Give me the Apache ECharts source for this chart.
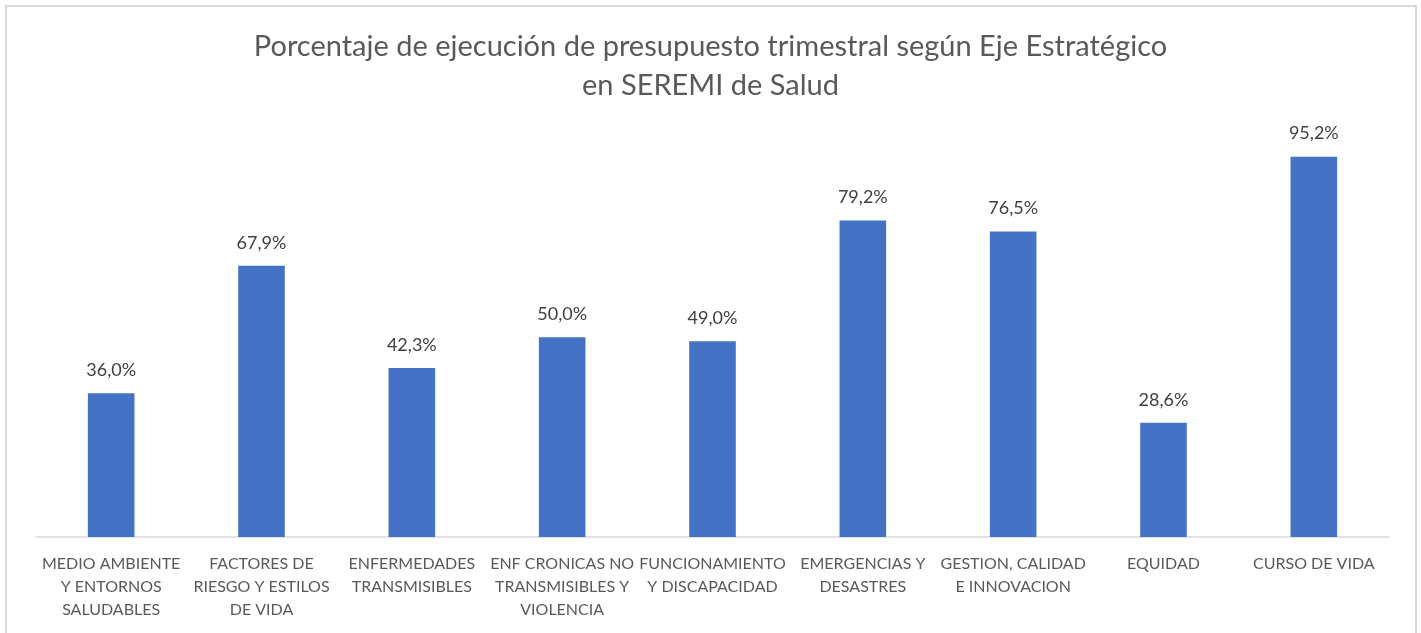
<!DOCTYPE html>
<html>
<head>
<meta charset="utf-8">
<script src="https://cdn.jsdelivr.net/npm/echarts@6/dist/echarts.min.js"></script>
<style>
    html, body { margin: 0; padding: 0; background: #fff; }
    #chart { width: 1421px; height: 633px; }
</style>
</head>
<body>
<div id="chart"></div>
<script>
    // categorias (ejes estrategicos) tal como aparecen en el grafico
    var ejes = [
        "MEDIO AMBIENTE\nY ENTORNOS\nSALUDABLES",
        "FACTORES DE\nRIESGO Y ESTILOS\nDE VIDA",
        "ENFERMEDADES\nTRANSMISIBLES",
        "ENF CRONICAS NO\nTRANSMISIBLES Y\nVIOLENCIA",
        "FUNCIONAMIENTO\nY DISCAPACIDAD",
        "EMERGENCIAS Y\nDESASTRES",
        "GESTION, CALIDAD\nE INNOVACION",
        "EQUIDAD",
        "CURSO DE VIDA"
    ];
    // porcentaje de ejecucion
    var ejecucion = [36.0, 67.9, 42.3, 50.0, 49.0, 79.2, 76.5, 28.6, 95.2];

    var myChart = echarts.init(document.getElementById("chart"));
    var fuente = "Lato, 'Open Sans', sans-serif";

    var option = {
        animation: false,
        title: {
            text: "Porcentaje de ejecución de presupuesto trimestral según Eje Estratégico\nen SEREMI de Salud",
            left: "center",
            top: 22,
            textStyle: {
                fontFamily: fuente,
                fontWeight: "normal",
                fontSize: 29,
                lineHeight: 39,
                color: "#595959"
            }
        },
        graphic: [{
            type: "rect",
            shape: { x: 6, y: 6, width: 1410, height: 700 },
            style: { fill: "none", stroke: "#d9d9d9", lineWidth: 2 },
            silent: true
        }],
        grid: { left: 36, right: 32, top: 137.5, bottom: 96 },
        xAxis: {
            type: "category",
            data: ejes,
            axisLine: { lineStyle: { color: "#d9d9d9", width: 1.5 } },
            axisTick: { show: false },
            axisLabel: {
                interval: 0,
                margin: 15,
                fontFamily: fuente,
                fontSize: 16,
                lineHeight: 23,
                color: "#595959"
            }
        },
        yAxis: {
            type: "value",
            min: 0,
            max: 100,
            show: false,
            splitLine: { show: false }
        },
        series: [{
            type: "bar",
            data: ejecucion,
            barWidth: "31%",
            itemStyle: { color: "#4472c4" },
            label: {
                show: true,
                position: "top",
                distance: 14,
                fontFamily: fuente,
                fontSize: 18,
                color: "#404040",
                formatter: function (p) {
                    return p.value.toFixed(1).replace(".", ",") + "%";
                }
            }
        }]
    };
    myChart.setOption(option);
</script>
</body>
</html>
